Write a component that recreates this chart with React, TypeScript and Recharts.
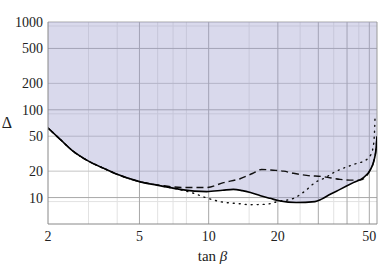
import {
  Area,
  CartesianGrid,
  ComposedChart,
  Label,
  Line,
  ReferenceLine,
  XAxis,
  YAxis,
} from "recharts";

// solid curve (also bounds the shaded region)
const solidTan = [2, 2.26, 2.58, 2.96, 3.5, 4, 5, 6.2, 7.5, 9.8, 11.5, 12.8, 14, 15.2, 16.8, 18.5, 20.5, 24, 29, 31, 33.8, 37.3, 42.6, 47, 50.4, 52.5, 53.5, 54];
const solidDelta = [62, 46, 33.5, 26.5, 21.5, 18.4, 15.2, 13.6, 12.4, 11.7, 12.1, 12.4, 12, 11.4, 10.5, 9.8, 9.15, 8.8, 9.0, 9.6, 10.9, 12.4, 14.8, 16.8, 20.5, 27, 36, 50];

// dashed curve
const dashedTan = [2, 2.26, 2.58, 2.96, 3.5, 4, 5, 6.2, 7.8, 9.8, 11.6, 13.7, 15.5, 17, 19.1, 21.2, 23.4, 26.7, 31.6, 37.3, 42, 45.6, 48.5, 50.4, 52.5, 53.5, 54];
const dashedDelta = [62, 46, 33.5, 26.5, 21.5, 18.4, 15.2, 13.8, 13.0, 13.0, 14.8, 16.4, 18.8, 20.9, 20.5, 20.0, 18.9, 17.9, 17.3, 16.1, 15.8, 15.8, 17.5, 20.5, 27, 36, 50];

// dotted curve
const dottedTan = [2, 2.26, 2.58, 2.96, 3.5, 4, 5, 6.2, 7.5, 8.6, 9.8, 11.2, 13.7, 15.2, 17.9, 19.9, 23.4, 26.3, 29, 32.1, 34.9, 42.6, 48.8, 51.5, 52.5, 53];
const dottedDelta = [62, 46, 33.5, 26.5, 21.5, 18.4, 15.2, 13.6, 12.3, 11.2, 9.9, 9.0, 8.5, 8.3, 8.4, 9.0, 9.8, 11.9, 14.8, 16.8, 19.2, 23.8, 27.2, 34, 48, 88];

const xTicks = [2, 5, 10, 20, 50];
const yTicks = [10, 20, 50, 100, 200, 500, 1000];

const xGridLight = [3, 4, 6, 7, 8, 15, 25, 35, 45];
const xGridDark = [5, 10, 20, 30, 40, 50];
const yGridLight = [6, 7, 8, 9, 60, 70, 80, 90, 600, 700, 800, 900];
const yGridMid = [20, 50, 200];
const yGridDark = [10, 100, 500, 1000];

const X_DOMAIN: [number, number] = [2, 54];
const Y_DOMAIN: [number, number] = [5, 1000];

const FONT = "Liberation Serif";
const TICK = { fill: "#222", fontSize: 14, fontFamily: FONT } as const;

function toPoints(tan: number[], delta: number[]) {
  return tan.map((t, i) => ({ tan: t, delta: delta[i] }));
}

const solidData = toPoints(solidTan, solidDelta);
const dashedData = toPoints(dashedTan, dashedDelta);
const dottedData = toPoints(dottedTan, dottedDelta);

export default function App() {
  return (
    <div
      style={{
        position: "absolute",
        left: 0,
        top: 0,
        width: 382,
        height: 270,
        background: "#fff",
      }}
    >
      <ComposedChart
        width={382}
        height={270}
        data={solidData}
        margin={{ top: 22, right: 5, left: 0, bottom: 0 }}
      >
        <CartesianGrid
          stroke="#e2e2e2"
          strokeWidth={1}
          verticalValues={xGridLight}
          horizontalValues={yGridLight}
        />
        <CartesianGrid
          stroke="#c4c4c4"
          strokeWidth={1}
          vertical={false}
          horizontalValues={yGridMid}
        />
        <CartesianGrid
          stroke="#a8a8a8"
          strokeWidth={1}
          verticalValues={xGridDark}
          horizontalValues={yGridDark}
        />
        <XAxis
          type="number"
          dataKey="tan"
          scale="log"
          domain={X_DOMAIN}
          allowDataOverflow
          ticks={xTicks}
          tick={TICK}
          tickLine={false}
          tickSize={0}
          tickMargin={7}
          axisLine={{ stroke: "#888" }}
          height={46}
        >
          <Label
            content={(props: any) => {
              const vb = props.viewBox;
              return (
                <text
                  x={vb.x + vb.width / 2}
                  y={vb.y + vb.height - 9}
                  textAnchor="middle"
                  fontFamily={FONT}
                  fontSize={15}
                  fill="#222"
                >
                  tan <tspan fontStyle="italic">β</tspan>
                </text>
              );
            }}
          />
        </XAxis>
        <YAxis
          type="number"
          scale="log"
          domain={Y_DOMAIN}
          allowDataOverflow
          ticks={yTicks}
          tick={TICK}
          tickLine={false}
          tickSize={0}
          tickMargin={5}
          axisLine={{ stroke: "#888" }}
          width={48}
        >
          <Label
            content={(props: any) => {
              const vb = props.viewBox;
              return (
                <text
                  x={vb.x + 7}
                  y={vb.y + vb.height / 2 + 5}
                  textAnchor="middle"
                  fontFamily={FONT}
                  fontSize={16}
                  fill="#222"
                >
                  Δ
                </text>
              );
            }}
          />
        </YAxis>
        <ReferenceLine x={X_DOMAIN[1]} stroke="#999" ifOverflow="extendDomain" />
        <Area
          type="monotone"
          dataKey="delta"
          baseValue="dataMax"
          stroke="none"
          fill="#9c9ccd"
          fillOpacity={0.38}
          isAnimationActive={false}
        />
        <Line
          data={dottedData}
          type="monotone"
          dataKey="delta"
          stroke="#111"
          strokeWidth={1.4}
          strokeDasharray="1 5"
          strokeLinecap="round"
          dot={false}
          isAnimationActive={false}
        />
        <Line
          data={dashedData}
          type="monotone"
          dataKey="delta"
          stroke="#111"
          strokeWidth={1.4}
          strokeDasharray="7 4"
          dot={false}
          isAnimationActive={false}
        />
        <Line
          type="monotone"
          dataKey="delta"
          stroke="#000"
          strokeWidth={1.6}
          dot={false}
          isAnimationActive={false}
        />
      </ComposedChart>
    </div>
  );
}
